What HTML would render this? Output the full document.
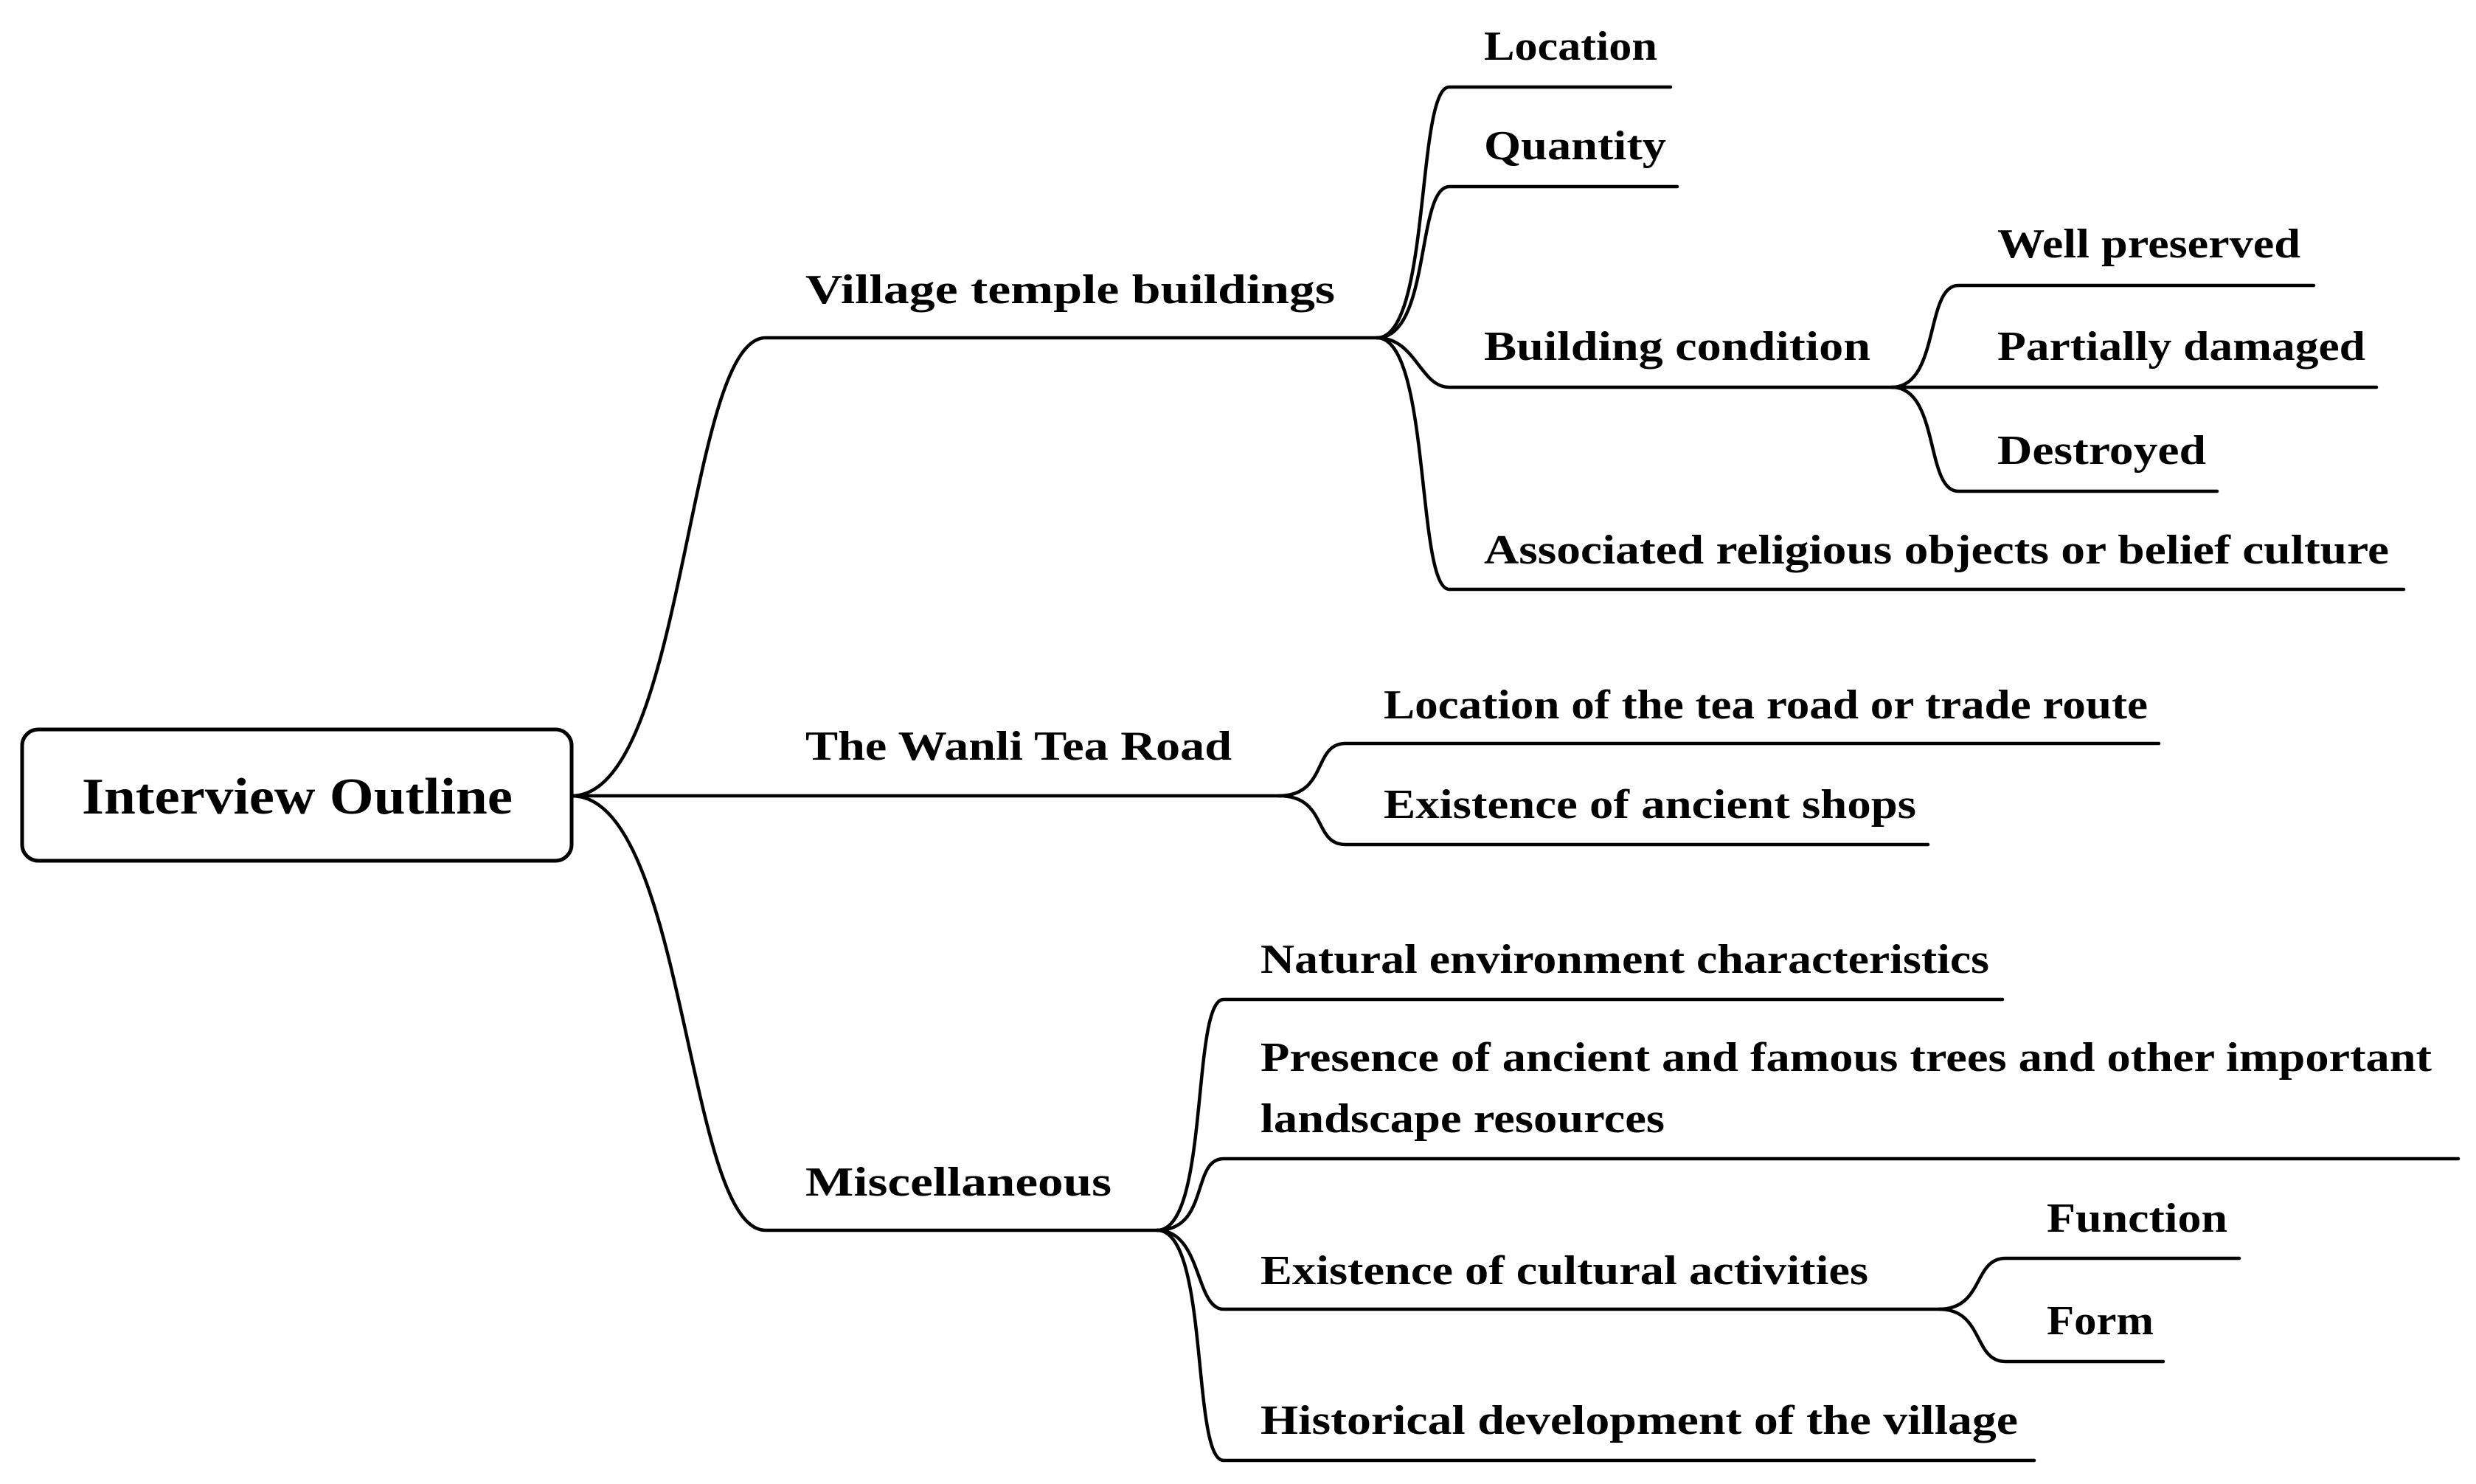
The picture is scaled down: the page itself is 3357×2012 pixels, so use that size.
<!DOCTYPE html>
<html><head><meta charset="utf-8"><style>
html,body{margin:0;padding:0;background:#fff;}
svg{display:block;}
text{font-family:"Liberation Serif",serif;font-weight:bold;fill:#000;}
</style></head><body>
<svg width="3357" height="2012" viewBox="0 0 3357 2012" xmlns="http://www.w3.org/2000/svg">
<g fill="none" stroke="#000" stroke-width="4.5" stroke-linecap="round">
<rect x="30" y="989" width="745" height="178" rx="22" ry="22" stroke-width="5"/>
<!-- root to level1 -->
<path d="M775 1079 C 930 1079, 930 458, 1038 458 L 1867 458"/>
<path d="M775 1079 L 1734 1079"/>
<path d="M775 1079 C 930 1079, 930 1668, 1038 1668 L 1569 1668"/>
<!-- village children -->
<path d="M1867 458 C 1940 458, 1920 118, 1965 118 L 2265 118"/>
<path d="M1867 458 C 1940 458, 1920 253, 1965 253 L 2274 253"/>
<path d="M1867 458 C 1920 458, 1925 525, 1965 525 L 2565 525"/>
<path d="M1867 458 C 1940 458, 1920 799, 1965 799 L 3259 799"/>
<!-- building condition children -->
<path d="M2565 525 C 2630 525, 2610 387, 2655 387 L 3137 387"/>
<path d="M2565 525 L 3222 525"/>
<path d="M2565 525 C 2630 525, 2610 666, 2655 666 L 3006 666"/>
<!-- tea road children -->
<path d="M1734 1079 C 1800 1079, 1780 1008, 1824 1008 L 2927 1008"/>
<path d="M1734 1079 C 1800 1079, 1780 1145, 1824 1145 L 2614 1145"/>
<!-- misc children -->
<path d="M1569 1668 C 1640 1668, 1615 1355, 1659 1355 L 2715 1355"/>
<path d="M1569 1668 C 1640 1668, 1615 1571, 1659 1571 L 3333 1571"/>
<path d="M1569 1668 C 1630 1668, 1620 1775, 1659 1775 L 2629 1775"/>
<path d="M1569 1668 C 1640 1668, 1615 1980, 1659 1980 L 2758 1980"/>
<!-- cultural children -->
<path d="M2629 1775 C 2690 1775, 2675 1706, 2719 1706 L 3036 1706"/>
<path d="M2629 1775 C 2690 1775, 2675 1846, 2719 1846 L 2933 1846"/>
</g>
<g font-size="56" lengthAdjust="spacingAndGlyphs">
<text x="111" y="1103" font-size="70" textLength="584" lengthAdjust="spacingAndGlyphs">Interview Outline</text>
<text x="1092" y="411" textLength="718" lengthAdjust="spacingAndGlyphs">Village temple buildings</text>
<text x="1092" y="1030" textLength="578" lengthAdjust="spacingAndGlyphs">The Wanli Tea Road</text>
<text x="1092" y="1621" textLength="415" lengthAdjust="spacingAndGlyphs">Miscellaneous</text>
<text x="2012" y="81" textLength="235" lengthAdjust="spacingAndGlyphs">Location</text>
<text x="2012" y="216" textLength="247" lengthAdjust="spacingAndGlyphs">Quantity</text>
<text x="2012" y="488" textLength="524" lengthAdjust="spacingAndGlyphs">Building condition</text>
<text x="2012" y="764" textLength="1227" lengthAdjust="spacingAndGlyphs">Associated religious objects or belief culture</text>
<text x="2708" y="349" textLength="411" lengthAdjust="spacingAndGlyphs">Well preserved</text>
<text x="2708" y="488" textLength="499" lengthAdjust="spacingAndGlyphs">Partially damaged</text>
<text x="2708" y="629" textLength="283" lengthAdjust="spacingAndGlyphs">Destroyed</text>
<text x="1876" y="974" textLength="1036" lengthAdjust="spacingAndGlyphs">Location of the tea road or trade route</text>
<text x="1876" y="1109" textLength="722" lengthAdjust="spacingAndGlyphs">Existence of ancient shops</text>
<text x="1709" y="1319" textLength="988" lengthAdjust="spacingAndGlyphs">Natural environment characteristics</text>
<text x="1709" y="1452" textLength="1588" lengthAdjust="spacingAndGlyphs">Presence of ancient and famous trees and other important</text>
<text x="1709" y="1535" textLength="548" lengthAdjust="spacingAndGlyphs">landscape resources</text>
<text x="1709" y="1741" textLength="824" lengthAdjust="spacingAndGlyphs">Existence of cultural activities</text>
<text x="1709" y="1944" textLength="1027" lengthAdjust="spacingAndGlyphs">Historical development of the village</text>
<text x="2775" y="1670" textLength="245" lengthAdjust="spacingAndGlyphs">Function</text>
<text x="2775" y="1809" textLength="145" lengthAdjust="spacingAndGlyphs">Form</text>
</g>
</svg>
</body></html>
